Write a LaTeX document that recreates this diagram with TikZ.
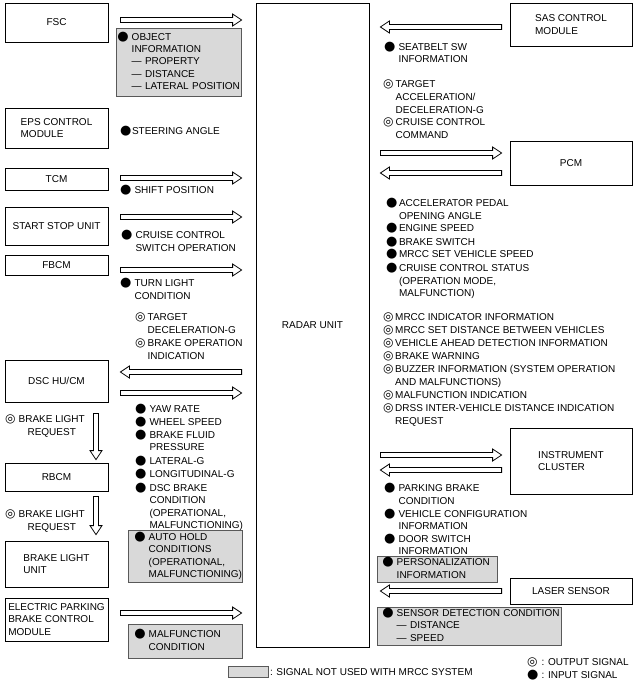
\documentclass[tikz,border=0pt]{standalone}
\usepackage{fontspec}
\setmainfont{Liberation Sans}
\newfontfamily\bulletfont{DejaVu Sans}
\usetikzlibrary{calc,positioning}

\newcommand\insig{\smash{\bulletfont\fontsize{13}{13}\selectfont ●}}
\newcommand\outsig{\smash{\bulletfont\fontsize{12}{12}\selectfont ◎}}
\newcommand\sigrows[2][3pt]{\begin{tabular}[t]{@{}l@{\hspace{#1}}l@{}}#2\end{tabular}}

\tikzset{
  module/.style={draw, line width=0.8pt, inner sep=2pt, align=left, minimum width=#1},
  module/.default=103pt,
  siglist/.style={anchor=base west, inner sep=0pt},
  unused/.style={draw=black!65, fill=black!15, line width=0.8pt, anchor=north west, inner ysep=0pt, align=left},
  sig/.style 2 args={line width=0.8pt, to path={
      ($(\tikztostart)!#1pt!(\tikztotarget)$) coordinate (sig-s)
      ($(\tikztotarget)!#2pt!(\tikztostart)$) coordinate (sig-t)
      ($(sig-t)!9pt!(sig-s)$) coordinate (sig-n)
      ($(sig-s)!2.5pt!90:(sig-t)$) -- ($(sig-n)!2.5pt!-90:(sig-s)$)
      -- ($(sig-n)!6pt!-90:(sig-s)$) -- (sig-t)
      -- ($(sig-n)!6pt!90:(sig-s)$) -- ($(sig-n)!2.5pt!90:(sig-s)$)
      -- ($(sig-s)!2.5pt!-90:(sig-t)$) -- cycle}}
}

\begin{document}
\begin{tikzpicture}[x=1pt, y=-1pt, font=\fontsize{10}{12.4}\selectfont]
  \useasboundingbox (0,0) rectangle (634,682);

  % modules on the left
  \node[module, minimum height=39pt] (fsc) at (56.5,22.5) {FSC};
  \node[module, minimum height=40pt] (eps) at (56.5,128) {EPS CONTROL\\MODULE};
  \node[module, minimum height=22pt] (tcm) at (56.5,179) {TCM};
  \node[module, minimum height=38pt] (ssu) at (56.5,226) {START STOP UNIT};
  \node[module, minimum height=20pt] (fbcm) at (56.5,265) {FBCM};
  \node[module, minimum height=42pt] (dsc) at (56.5,381) {DSC HU/CM};
  \node[module, minimum height=28pt] (rbcm) at (56.5,477) {RBCM};
  \node[module, minimum height=46pt] (blu) at (56.5,564) {BRAKE LIGHT\\UNIT};
  \node[module, minimum height=43pt] (epb) at (56.5,619.5) {ELECTRIC PARKING\\BRAKE CONTROL\\MODULE};

  \node[module=113pt, minimum height=644pt] (radar) at (312.5,325) {RADAR UNIT};

  % modules on the right
  \node[module=122pt, minimum height=43pt] (sas) at (571,24.5) {SAS CONTROL\\MODULE};
  \node[module=122pt, minimum height=44pt] (pcm) at (571,163) {PCM};
  \node[module=122pt, minimum height=66pt] (ic) at (571,461) {INSTRUMENT\\CLUSTER};
  \node[module=122pt, minimum height=26pt] (laser) at (571,591) {LASER SENSOR};

  % signal arrows
  \draw[sig={12}{14}] (fsc.east |- 0,20) to (radar.west |- 0,20);
  \draw[sig={12}{14}] (tcm.east |- 0,178) to (radar.west |- 0,178);
  \draw[sig={12}{14}] (ssu.east |- 0,217) to (radar.west |- 0,217);
  \draw[sig={12}{14}] (fbcm.east |- 0,270) to (radar.west |- 0,270);
  \draw[sig={14}{12}] (radar.west |- 0,372) to (dsc.east |- 0,372);
  \draw[sig={12}{14}] (dsc.east |- 0,393) to (radar.west |- 0,393);
  \draw[sig={12}{14}] (epb.east |- 0,613) to (radar.west |- 0,613);
  \draw[sig={11}{3}] (dsc.south -| 96,0) to (rbcm.north -| 96,0);
  \draw[sig={5}{6}] (rbcm.south -| 96,0) to (blu.north -| 96,0);

  \draw[sig={8}{11}] (sas.west |- 0,27) to (radar.east |- 0,27);
  \draw[sig={11}{8}] (radar.east |- 0,153) to (pcm.west |- 0,153);
  \draw[sig={8}{11}] (pcm.west |- 0,173) to (radar.east |- 0,173);
  \draw[sig={11}{8}] (radar.east |- 0,455) to (ic.west |- 0,455);
  \draw[sig={8}{11}] (ic.west |- 0,470) to (radar.east |- 0,470);
  \draw[sig={8}{11}] (laser.west |- 0,591) to (radar.east |- 0,591);

  % signals on the left
  \node[unused, text width=123pt, inner xsep=1pt, minimum height=68pt] (objinfo) at (116,28)
    {\sigrows{\insig & OBJECT\\ & INFORMATION\\ & — PROPERTY\\ & — DISTANCE\\ & — LATERAL POSITION}};
  \node[siglist] (steer) at (120,134.6) {\sigrows[0.5pt]{\insig & STEERING ANGLE}};
  \node[siglist] (shift) at (120,193.6) {\sigrows{\insig & SHIFT POSITION}};
  \node[siglist] (ccsw) at (121,238.6) {\sigrows{\insig & CRUISE CONTROL\\ & SWITCH OPERATION}};
  \node[siglist] (turn) at (120,286.6) {\sigrows{\insig & TURN LIGHT\\ & CONDITION}};
  \node[siglist] (dscout) at (135,320.6)
    {\sigrows[2pt]{\outsig & TARGET\\[0.6pt] & DECELERATION-G\\[0.6pt] \outsig & BRAKE OPERATION\\[0.6pt] & INDICATION}};
  \node[siglist] (dscin) at (135,412.6)
    {\sigrows{\insig & YAW RATE\\ \insig & WHEEL SPEED\\[0.6pt] \insig & BRAKE FLUID\\ & PRESSURE\\[1.6pt]
      \insig & LATERAL-G\\[0.6pt] \insig & LONGITUDINAL-G\\[1.6pt] \insig & DSC BRAKE\\ & CONDITION\\
      & (OPERATIONAL,\\ & MALFUNCTIONING)}};
  \node[unused, text width=102pt, inner xsep=6pt, minimum height=52pt] (autohold) at (128,530)
    {\sigrows{\insig & AUTO HOLD\\ & CONDITIONS\\ & (OPERATIONAL,\\ & MALFUNCTIONING)}};
  \node[unused, text width=102pt, inner xsep=6pt, minimum height=34pt] (epbmal) at (128,624)
    {\sigrows{\insig & MALFUNCTION\\ & CONDITION}};
  \node[siglist] (req1) at (5,422.6)
    {\begin{tabular}[t]{@{}l@{\hspace{3pt}}c@{}}\outsig & BRAKE LIGHT\\ & REQUEST\end{tabular}};
  \node[siglist] (req2) at (5,517.6)
    {\begin{tabular}[t]{@{}l@{\hspace{3pt}}c@{}}\outsig & BRAKE LIGHT\\ & REQUEST\end{tabular}};

  % signals on the right
  \node[siglist] (belt) at (384,50.6) {\sigrows{\insig & SEATBELT SW\\ & INFORMATION}};
  \node[siglist] (pcmout) at (383,87.6)
    {\sigrows[2pt]{\outsig & TARGET\\[0.4pt] & ACCELERATION/\\[0.4pt] & DECELERATION-G\\[0.4pt]
      \outsig & CRUISE CONTROL\\[0.4pt] & COMMAND}};
  \node[siglist] (pcmin) at (386,206.6)
    {\sigrows[1.5pt]{\insig & ACCELERATOR PEDAL\\ & OPENING ANGLE\\ \insig & ENGINE SPEED\\[1.6pt]
      \insig & BRAKE SWITCH\\ \insig & MRCC SET VEHICLE SPEED\\[1.6pt] \insig & CRUISE CONTROL STATUS\\
      & (OPERATION MODE,\\ & MALFUNCTION)}};
  \node[siglist] (icout) at (383,320.6)
    {\sigrows[1.5pt]{\outsig & MRCC INDICATOR INFORMATION\\[0.6pt] \outsig & MRCC SET DISTANCE BETWEEN VEHICLES\\[0.6pt]
      \outsig & VEHICLE AHEAD DETECTION INFORMATION\\[0.6pt] \outsig & BRAKE WARNING\\[0.6pt]
      \outsig & BUZZER INFORMATION (SYSTEM OPERATION\\[0.6pt] & AND MALFUNCTIONS)\\[0.6pt]
      \outsig & MALFUNCTION INDICATION\\[0.6pt] \outsig & DRSS INTER-VEHICLE DISTANCE INDICATION\\[0.6pt]
      & REQUEST}};
  \node[siglist] (icin) at (384,491.6)
    {\sigrows{\insig & PARKING BRAKE\\ & CONDITION\\[0.6pt] \insig & VEHICLE CONFIGURATION\\ & INFORMATION\\[0.6pt]
      \insig & DOOR SWITCH\\ & INFORMATION}};
  \node[unused, text width=110pt, inner xsep=5pt, minimum height=26pt] (person) at (377,556)
    {\sigrows{\insig & PERSONALIZATION\\ & INFORMATION}};
  \node[unused, text width=174pt, inner xsep=5pt, minimum height=38pt] (sensor) at (377,607)
    {\sigrows{\insig & SENSOR DETECTION CONDITION\\ & — DISTANCE\\ & — SPEED}};

  % legend
  \node[unused, minimum width=40pt, minimum height=11pt, inner sep=0pt] (key) at (228,666) {};
  \node[right=1pt of key, inner sep=0pt] (keytext) {: SIGNAL NOT USED WITH MRCC SYSTEM};
  \node[siglist] (legend) at (527,665.6) {\sigrows{\outsig & : OUTPUT SIGNAL\\ \insig & : INPUT SIGNAL}};
\end{tikzpicture}
\end{document}
